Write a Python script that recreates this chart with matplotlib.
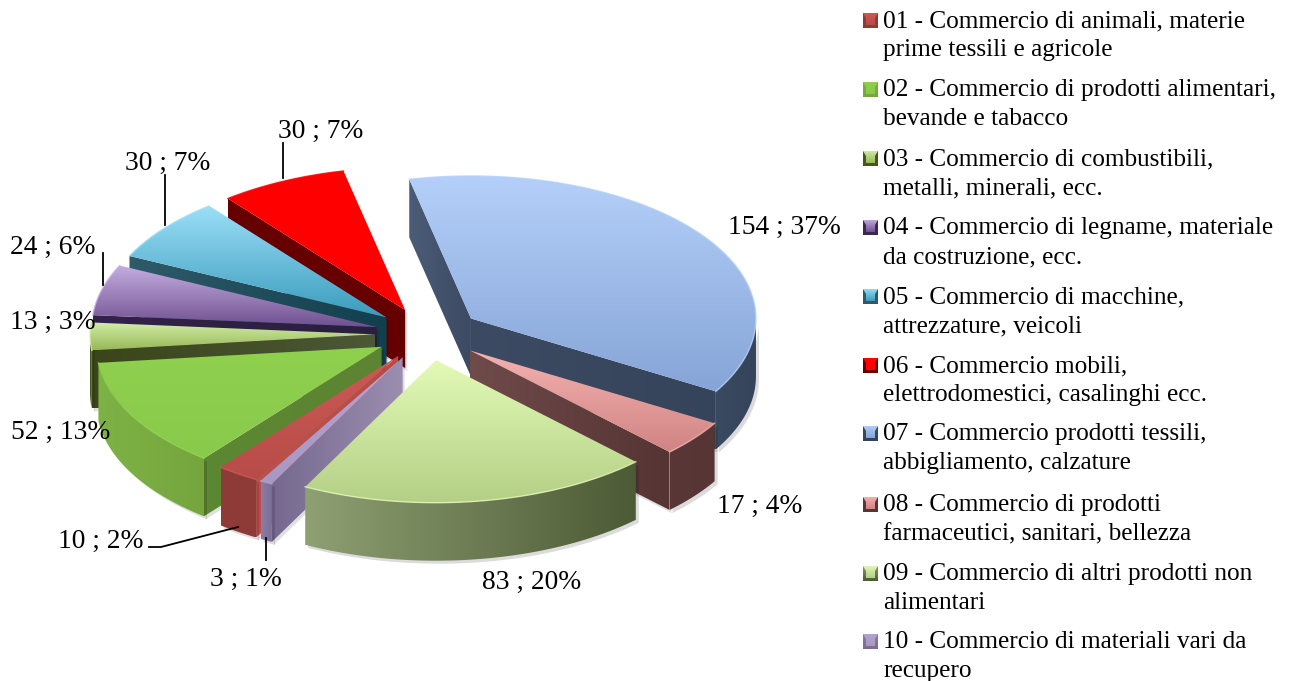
import numpy as np
from matplotlib import pyplot as plt
from matplotlib.colors import LinearSegmentedColormap
from matplotlib.patches import Polygon

plt.rcParams['font.family'] = ['Liberation Serif', 'DejaVu Serif']

codes = ["01", "02", "03", "04", "05", "06", "07", "08", "09", "10"]
values = [10, 52, 13, 24, 30, 30, 154, 17, 83, 3]
percents = [2, 13, 3, 6, 7, 7, 37, 4, 20, 1]
names = [
    "Commercio di animali, materie\nprime tessili e agricole",
    "Commercio di prodotti alimentari,\nbevande e tabacco",
    "Commercio di combustibili,\nmetalli, minerali, ecc.",
    "Commercio di legname, materiale\nda costruzione, ecc.",
    "Commercio di macchine,\nattrezzature, veicoli",
    "Commercio mobili,\nelettrodomestici, casalinghi ecc.",
    "Commercio prodotti tessili,\nabbigliamento, calzature",
    "Commercio di prodotti\nfarmaceutici, sanitari, bellezza",
    "Commercio di altri prodotti non\nalimentari",
    "Commercio di materiali vari da\nrecupero",
]

# colours: top surface (upper, lower), outer side (left, right), cut wall (left, right)
top_cols = [("#cc5a56", "#b84c48"), ("#90d04f", "#8aca4b"), ("#d2eea6", "#98b858"),
            ("#c4aee0", "#705090"), ("#9cdff8", "#3a9cbc"), ("#ff0000", "#ff0000"),
            ("#b4d0fa", "#86a4d6"), ("#f4b2b0", "#d08483"), ("#e2fab6", "#b4cf86"),
            ("#b4a4d2", "#a898c4")]
side_cols = [("#8e3b38", "#8e3b38"), ("#7db245", "#76a53e"), ("#46561f", "#46561f"),
             ("#3a2a50", "#3a2a50"), ("#2f5a6a", "#2f5a6a"), ("#660000", "#660000"),
             ("#3a4a60", "#35445a"), ("#5a3737", "#573535"), ("#8fa073", "#4c5a35"),
             ("#8b7ca5", "#7a6c92")]
wall_cols = [("#c0504d", "#b84a46"), ("#5c8832", "#5c8432"), ("#3a4519", "#4c5836"),
             ("#33224a", "#2a1f3c"), ("#2f5a6a", "#123f4e"), ("#660000", "#660000"),
             ("#4c5c78", "#3c4a62"), ("#6f4b4a", "#563434"), ("#4c5a35", "#4c5a35"),
             ("#76698f", "#9c8eb0")]
# slice 07 shows both cut walls, the long one is darker
wall2_cols = {6: ("#3c4b63", "#35445a")}

cx, cy = 428, 334
explode = 53
radius = 285
squash = 0.5
depth = 58
start_angle = 240.1

fig = plt.figure(figsize=(12.9, 6.81), dpi=100)
ax = fig.add_axes([0, 0, 1, 1])


def paint(pts, c1, c2, vertical, zorder):
    pts = np.array(pts)
    patch = Polygon(pts, closed=True, fc="none", ec="none", zorder=zorder)
    ax.add_patch(patch)
    grad = np.linspace(0, 1, 256).reshape(-1, 1) if vertical else np.linspace(0, 1, 256).reshape(1, -1)
    cmap = LinearSegmentedColormap.from_list("g", [c1, c2])
    im = ax.imshow(grad, cmap=cmap, aspect="auto", zorder=zorder, origin="upper", interpolation="bilinear",
                   extent=[pts[:, 0].min(), pts[:, 0].max() + 0.01, pts[:, 1].max() + 0.01, pts[:, 1].min()])
    im.set_clip_path(patch)
    return patch


def rim(theta, ox, oy, dz=0):
    rad = np.radians(theta)
    return np.column_stack([ox + radius * np.cos(rad), oy - radius * squash * np.sin(rad) + dz])


sweeps = np.array(values) / sum(values) * 360
starts = start_angle - np.concatenate([[0], np.cumsum(sweeps)[:-1]])
ends = starts - sweeps
mids = (starts + ends) / 2

# back slices first
order = np.argsort(-np.sin(np.radians(mids)))
z = 2
for i in order:
    a1, a2 = starts[i], ends[i]
    ox = cx + explode * np.cos(np.radians(mids[i]))
    oy = cy - explode * squash * np.sin(np.radians(mids[i]))

    for a, visible, cols in ((a1, np.cos(np.radians(a1)) < 0, wall_cols[i]),
                             (a2, np.cos(np.radians(a2)) > 0, wall2_cols.get(i, wall_cols[i]))):
        if visible:
            p = rim(np.array([a]), ox, oy)[0]
            wall = [(ox, oy), tuple(p), (p[0], p[1] + depth), (ox, oy + depth)]
            # soft shadow
            ax.add_patch(Polygon(np.array(wall) + [2, 3], fc="#000000", ec="none", alpha=0.12, zorder=z))
            paint(wall, cols[0], cols[1], False, z + 0.1)
            z += 0.2

    for lo, hi in ((-180, 0), (180, 360)):
        h = min(a1, hi)
        l = max(a2, lo)
        if h > l:
            th = np.linspace(l, h, 60)
            upper = rim(th, ox, oy)
            lower = rim(th[::-1], ox, oy, depth)
            side = np.vstack([upper, lower])
            ax.add_patch(Polygon(side + [3, 3], fc="#000000", ec="none", alpha=0.14, zorder=z))
            paint(side, side_cols[i][0], side_cols[i][1], False, z + 0.1)
            z += 0.2

    th = np.linspace(a2, a1, 80)
    top = np.vstack([[ox, oy], rim(th, ox, oy)])
    paint(top, top_cols[i][0], top_cols[i][1], True, z)
    ax.plot(*rim(th, ox, oy).T, color=top_cols[i][0], lw=1, alpha=0.8, zorder=z + 0.05)
    z += 0.2

# data labels: centre of each label as placed on the chart
label_x = [101, 61, 53, 53, 168, 321, 784, 760, 532, 246]
label_y = [541, 432, 322, 247, 163, 131, 227, 506, 582, 579]
for v, p, x, y in zip(values, percents, label_x, label_y):
    ax.text(x, y, f"{v} ; {p}%", ha="center", va="center", fontsize=19.8, color="black", zorder=50)

# leader lines
leaders = [([149, 161, 238], [547, 547, 527]), ([266, 266], [538, 560]), ([103, 103], [253, 285]),
           ([165, 165], [175, 225]), ([283, 283], [143, 178])]
for lx, ly in leaders:
    ax.plot(lx, ly, color="black", lw=1.3, zorder=51)

# legend
legend_y = [34, 103, 172, 241, 310, 379, 447, 518, 587, 655]
for i, (code, name) in enumerate(zip(codes, names)):
    y = legend_y[i]
    line1, line2 = name.split("\n")
    ax.text(883, y - 13, f"{code} - {line1}", va="center", ha="left", fontsize=18.2, zorder=50)
    ax.text(883, y + 16, line2, va="center", ha="left", fontsize=18.2, zorder=50)
    sq = [(863, y - 21), (878, y - 21), (878, y - 6), (863, y - 6)]
    paint(sq, side_cols[i][0], side_cols[i][1], True, 40)
    inner = [(863, y - 21), (878, y - 21), (875, y - 16), (875, y - 9), (866, y - 9), (866, y - 16)]
    paint(inner, top_cols[i][0], top_cols[i][1], True, 41)

ax.set_xlim(0, 1290)
ax.set_ylim(681, 0)
ax.axis("off")
fig.savefig("out.png", dpi=100)
